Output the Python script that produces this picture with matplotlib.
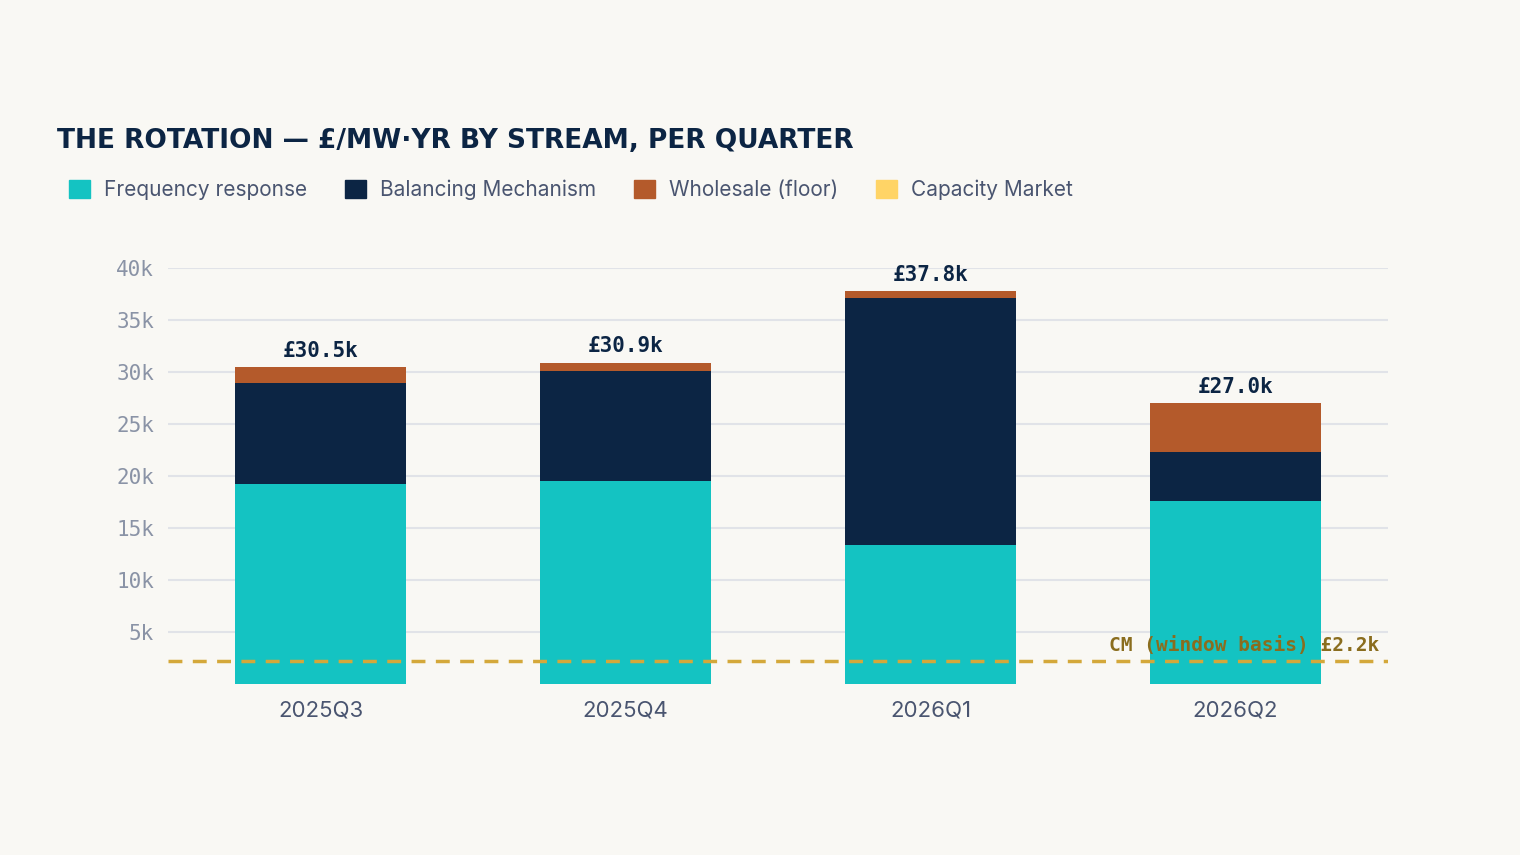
import matplotlib
matplotlib.use("Agg")
import matplotlib.pyplot as plt
from matplotlib.patches import Patch
import numpy as np

quarters = ["2025Q3", "2025Q4", "2026Q1", "2026Q2"]
freq = [19.2, 19.5, 13.4, 17.6]
bm = [9.7, 10.6, 23.7, 4.7]
wholesale = [1.6, 0.8, 0.7, 4.7]
capacity = [0.0, 0.0, 0.0, 0.0]
totals = [30.5, 30.9, 37.8, 27.0]
cm_line = 2.2
yticks = [5, 10, 15, 20, 25, 30, 35, 40]

bg = "#F9F8F4"
c_fr, c_bm, c_ws, c_cm = "#14C3C2", "#0C2544", "#B45A2B", "#FFD466"

fig = plt.figure(figsize=(15.2, 8.55), dpi=100, facecolor=bg)
ax = fig.add_axes([168/1520, 1-684/855, 1220/1520, 416/855])
ax.set_facecolor(bg)
x = np.arange(len(quarters))
w = 0.56
ax.bar(x, freq, w, color=c_fr, zorder=2)
ax.bar(x, bm, w, bottom=freq, color=c_bm, zorder=2)
b2 = np.array(freq) + np.array(bm)
ax.bar(x, wholesale, w, bottom=b2, color=c_ws, zorder=2)
ax.bar(x, capacity, w, bottom=b2 + np.array(wholesale), color=c_cm, zorder=2)
for xi, t in zip(x, totals):
    ax.text(xi, t + 0.6, f"£{t:.1f}k", ha="center", va="bottom", fontsize=15,
            fontweight="bold", family="DejaVu Sans Mono", color="#0C2544")
ax.axhline(cm_line, color="#D4A83A", lw=2.5, ls=(0, (4, 3)), zorder=3)
ax.text(3.47, cm_line + 0.6, f"CM (window basis) £{cm_line:.1f}k", ha="right", va="bottom",
        fontsize=14, family="DejaVu Sans Mono", color="#8A6D1E", fontweight="bold")
ax.set_xlim(-0.5, 3.5)
ax.set_ylim(0, 40)
ax.set_yticks(yticks)
ax.set_yticklabels([f"{v}k" for v in yticks], family="DejaVu Sans Mono", fontsize=15, color="#8A93A6")
ax.grid(axis="y", color="#E1E3E8", lw=1.5, zorder=0)
ax.set_xticks(x)
ax.set_xticklabels(quarters, fontsize=16, color="#4A5570", family="Inter")
ax.tick_params(length=0, pad=12)
ax.tick_params(axis="y", pad=10)
for s in ax.spines.values():
    s.set_visible(False)

fig.text(57/1520, 1-141/855, "THE ROTATION — £/MW·YR BY STREAM, PER QUARTER", fontsize=19,
         fontweight="bold", color="#0C2544", va="center", family="DejaVu Sans")
handles = [Patch(color=c) for c in (c_fr, c_bm, c_ws, c_cm)]
labels = ["Frequency response", "Balancing Mechanism", "Wholesale (floor)", "Capacity Market"]
leg = fig.legend(handles, labels, loc="center left", bbox_to_anchor=(50/1520, 1-190/855), ncol=4,
                 frameon=False, fontsize=15, handlelength=1.0, handleheight=1.0,
                 handletextpad=0.7, columnspacing=1.8, prop={"family": "Inter", "size": 15})
for t in leg.get_texts():
    t.set_color("#4A5570")
fig.savefig("out.png", facecolor=bg)
